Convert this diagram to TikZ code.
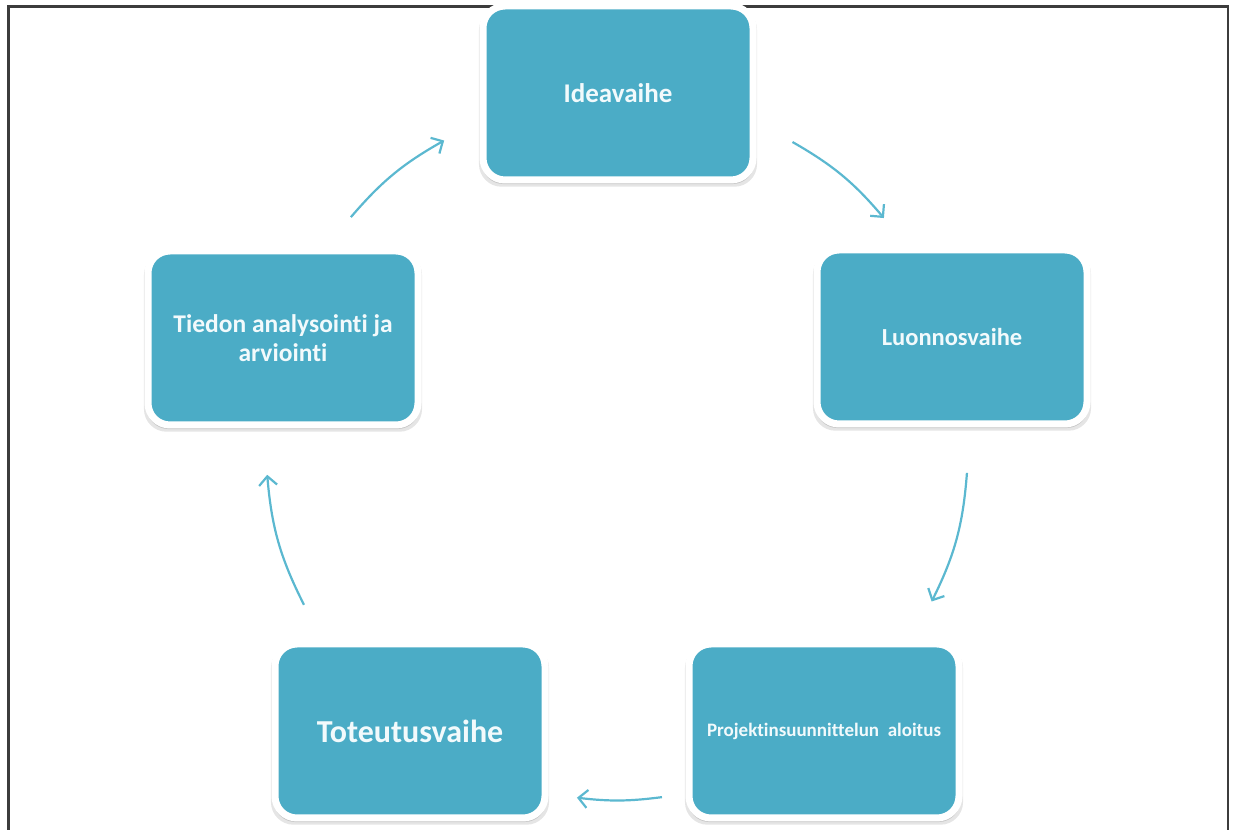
\documentclass[tikz,border=0pt]{standalone}
\usepackage{fontspec}
\setmainfont[Ligatures=NoCommon]{Carlito}
\usetikzlibrary{arrows.meta, calc, shadows}
\definecolor{phasefill}{HTML}{4BACC6}
\definecolor{phasetext}{HTML}{F2FAFC}
\definecolor{flowline}{HTML}{5BB8D0}
\definecolor{frameline}{HTML}{3C3C3C}
\tikzset{
  phase/.style = {rectangle, rounded corners=22pt, draw=white, fill=phasefill,
                  line width=7pt, minimum width=270pt, minimum height=174pt,
                  align=center, text=phasetext, font=\bfseries, inner sep=4pt,
                  general shadow={shadow xshift=0pt, shadow yshift=-4pt, shadow scale=1.03, opacity=0.10, fill=black},
                  general shadow={shadow xshift=0pt, shadow yshift=-3pt, shadow scale=1.012, opacity=0.14, fill=black}},
  flow/.style  = {-{Straight Barb[length=9pt, width=18pt]}, line width=2.2pt, draw=flowline},
}

\begin{document}
\begin{tikzpicture}[x=1pt, y=1pt]
    \useasboundingbox (0,0) rectangle (1235,830);
    \clip (0,0) rectangle (1235,830);
    \draw[frameline, line width=2.5pt] (8.5,823.5) rectangle (1228,-20);

    \node[phase, font=\bfseries\fontsize{27}{31}\selectfont] (idea)  at (618,737) {Ideavaihe};
    \node[phase, font=\bfseries\fontsize{24.5}{29}\selectfont] (luon)  at (952,493) {Luonnosvaihe};
    \node[phase, font=\bfseries\fontsize{19}{23}\selectfont] (proj)  at (824,99)  {Projektinsuunnittelun\ \ aloitus};
    \node[phase, font=\bfseries\fontsize{32}{36}\selectfont] (tote)  at (410,99)  {Toteutusvaihe};
    \node[phase, font=\bfseries\fontsize{25.5}{29}\selectfont] (tied)  at (283,492) {Tiedon analysointi ja\\arviointi};

    % arrow ends on the ring
    \coordinate (ctr) at (617,384);
    \coordinate (a1) at ($(ctr)+(60:351)$);
    \coordinate (b1) at ($(ctr)+(40.5:351)$);
    \coordinate (a2) at ($(ctr)+(-4.4:351)$);
    \coordinate (b2) at ($(ctr)+(-26.3:351)$);
    \coordinate (a3) at ($(ctr)+(-82.7:354)$);
    \coordinate (b3) at ($(ctr)+(-96.5:354)$);
    \coordinate (a4) at ($(ctr)+(206.9:351)$);
    \coordinate (b4) at ($(ctr)+(184.7:351)$);
    \coordinate (a5) at ($(ctr)+(139.3:351)$);
    \coordinate (b5) at ($(ctr)+(119.5:351)$);

    \draw[flow] (a1) to[bend left=10] (b1);
    \draw[flow] (a2) to[bend left=11] (b2);
    \draw[flow] (a3) to[bend left=7] (b3);
    \draw[flow] (a4) to[bend left=11] (b4);
    \draw[flow] (a5) to[bend left=10] (b5);
\end{tikzpicture}
\end{document}
